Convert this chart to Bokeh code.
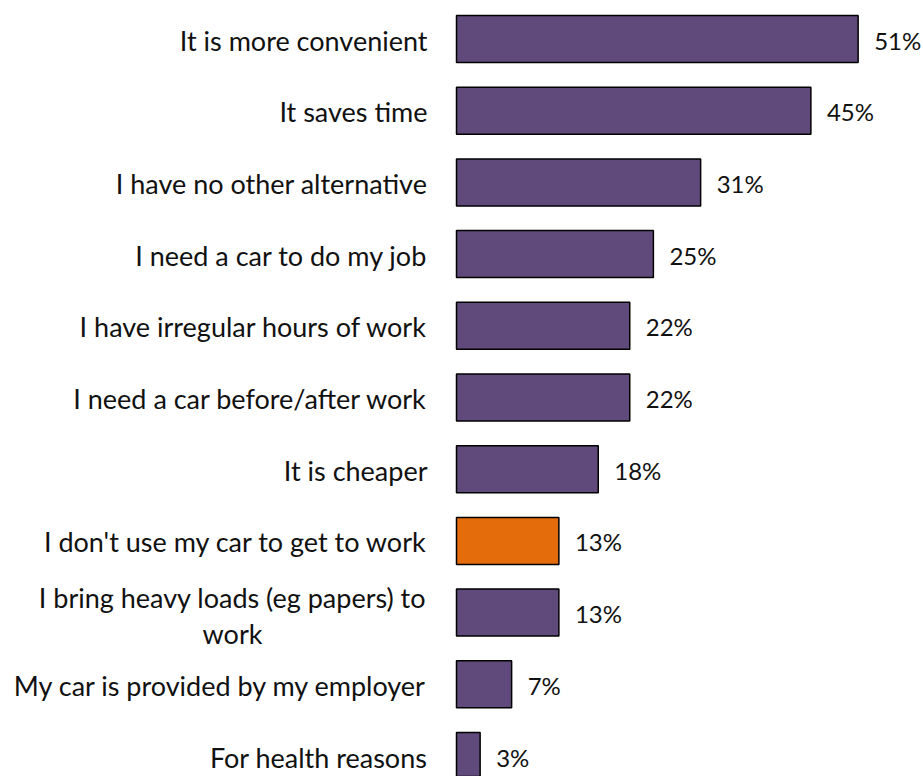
from bokeh.plotting import figure
from bokeh.models import ColumnDataSource, Range1d
from bokeh.core.properties import value
from bokeh.embed import file_html
from bokeh.resources import INLINE

categories = [
    "It is more convenient",
    "It saves time",
    "I have no other alternative",
    "I need a car to do my job",
    "I have irregular hours of work",
    "I need a car before/after work",
    "It is cheaper",
    "I don't use my car to get to work",
    "I bring heavy loads (eg papers) to\nwork",
    "My car is provided by my employer",
    "For health reasons",
]
values = [51, 45, 31, 25, 22, 22, 18, 13, 13, 7, 3]
highlight = "I don't use my car to get to work"

PURPLE = "#604A7B"
ORANGE = "#E46C0A"
FONT = "Lato"

n = len(categories)
pos = list(range(n))
colors = [ORANGE if c == highlight else PURPLE for c in categories]
labels = [f"{v}%" for v in values]

single = [c for c in categories if "\n" not in c]
single_pos = [pos[i] for i, c in enumerate(categories) if "\n" not in c]
multi = [c for c in categories if "\n" in c]
multi_pos = [pos[i] for i, c in enumerate(categories) if "\n" in c]

src = ColumnDataSource(dict(y=pos, v=values, color=colors, label=labels))

W, H = 923, 776
px_per_unit = 7.875
x0_px = 456
row_px = 71.7
first_center = 38.5

p = figure(width=W, height=H, output_backend="svg", toolbar_location=None,
           x_range=Range1d(-x0_px / px_per_unit, (W - x0_px) / px_per_unit),
           y_range=Range1d((H - first_center) / row_px, -first_center / row_px),
           min_border=0, min_border_left=0, min_border_right=0,
           min_border_top=0, min_border_bottom=0)
p.axis.visible = False
p.grid.visible = False
p.outline_line_color = None
p.background_fill_color = "white"
p.border_fill_color = "white"

p.hbar(y="y", left=0, right="v", height=0.655, source=src,
       fill_color="color", line_color="black", line_width=1.5)

p.text(x="v", y="y", text="label", source=src, x_offset=16, y_offset=1,
       text_align="left", text_baseline="middle",
       text_font=value(FONT), text_font_size="24px", text_color="#111111")

p.text(x=[0] * len(single), y=single_pos, text=single, x_offset=-29, y_offset=1,
       text_align="right", text_baseline="middle",
       text_font=value(FONT), text_font_size="27px", text_color="#111111")

p.text(x=[0] * len(multi), y=multi_pos, text=multi, x_offset=-224, y_offset=3,
       text_align="center", text_baseline="middle", text_line_height=1.1,
       text_font=value(FONT), text_font_size="27px", text_color="#111111")

open("out.html", "w").write(file_html(p, INLINE))
